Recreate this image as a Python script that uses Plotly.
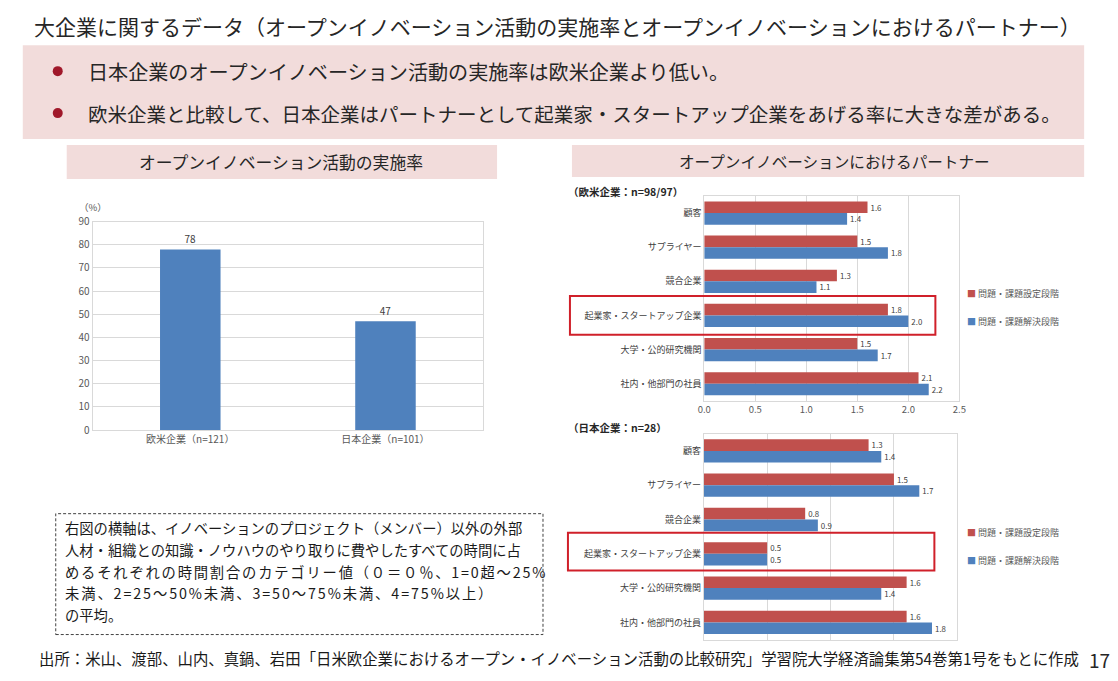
import plotly.graph_objects as go

W, H = 1118, 681
FONT = "Noto Sans CJK JP"

# ---------------- data ----------------
rate_categories = ["欧米企業（n=121）", "日本企業（n=101）"]
rate_values = [78, 47]

partner_categories = ["顧客", "サプライヤー", "競合企業", "起業家・スタートアップ企業",
                      "大学・公的研究機関", "社内・他部門の社員"]
western_setting = [1.6, 1.5, 1.3, 1.8, 1.5, 2.1]
western_solving = [1.4, 1.8, 1.1, 2.0, 1.7, 2.2]
japan_setting = [1.3, 1.5, 0.8, 0.5, 1.6, 1.6]
japan_solving = [1.4, 1.7, 0.9, 0.5, 1.4, 1.8]
series_names = ["問題・課題設定段階", "問題・課題解決段階"]

title_text = "大企業に関するデータ（オープンイノベーション活動の実施率とオープンイノベーションにおけるパートナー）"
bullet_texts = ["日本企業のオープンイノベーション活動の実施率は欧米企業より低い。",
                "欧米企業と比較して、日本企業はパートナーとして起業家・スタートアップ企業をあげる率に大きな差がある。"]
left_header = "オープンイノベーション活動の実施率"
right_header = "オープンイノベーションにおけるパートナー"
top_label = "（欧米企業：n=98/97）"
bottom_label = "（日本企業：n=28）"
note_lines = ["右図の横軸は、イノベーションのプロジェクト（メンバー）以外の外部",
              "人材・組織との知識・ノウハウのやり取りに費やしたすべての時間に占",
              "めるそれぞれの時間割合のカテゴリー値（０＝０％、1=0超～25%",
              "未満、2=25～50%未満、3=50～75%未満、4=75%以上）",
              "の平均。"]
source_text = "出所：米山、渡部、山内、真鍋、岩田「日米欧企業におけるオープン・イノベーション活動の比較研究」学習院大学経済論集第54巻第1号をもとに作成"
page_number = "17"

RED = "#C0504D"
BLUE = "#4F81BD"
PINK = "#f2dcdb"
GRID = "#d9d9d9"
TXT = "#404040"

# mapping from target-picture pixels to figure paper coordinates
SX, OX = 0.989, 14.2
SY, OY = 0.979, 15.8


def px(x):
    return ((x - OX) / SX) / W


def py(y):
    return 1 - ((y - OY) / SY) / H


fig = go.Figure()

# left bar chart
fig.add_trace(go.Bar(
    x=rate_categories, y=rate_values, xaxis="x", yaxis="y",
    marker=dict(color=BLUE, line=dict(width=0)), width=0.31,
    text=[str(v) for v in rate_values], textposition="outside",
    textfont=dict(size=10, color=TXT, family=FONT), cliponaxis=False,
    showlegend=False, hoverinfo="skip"))

# partner charts
for (sx, sy, setting, solving) in [("x2", "y2", western_setting, western_solving),
                                   ("x3", "y3", japan_setting, japan_solving)]:
    for vals, color, off, name in [(setting, RED, -0.34, series_names[0]),
                                   (solving, BLUE, 0.0, series_names[1])]:
        fig.add_trace(go.Bar(
            y=partner_categories, x=vals, orientation="h", xaxis=sx, yaxis=sy,
            marker=dict(color=color, line=dict(width=0)), offset=off, width=0.34,
            text=[f"{v:.1f}" for v in vals], textposition="outside",
            textfont=dict(size=9.5, color=TXT, family=FONT), cliponaxis=False,
            name=name, showlegend=False, hoverinfo="skip"))

axis_common = dict(showline=True, mirror=True, linecolor=GRID, linewidth=1,
                   zeroline=False, ticks="")

fig.update_layout(
    width=W, height=H, margin=dict(l=0, r=0, t=0, b=0),
    paper_bgcolor="white", plot_bgcolor="rgba(0,0,0,0)",
    barmode="overlay", font=dict(family=FONT, color=TXT),
    xaxis=dict(domain=[px(92), px(483)], anchor="y", showgrid=False,
               tickfont=dict(size=10, color="#595959"), **axis_common),
    yaxis=dict(domain=[py(429.3), py(220.7)], anchor="x", range=[0, 90], dtick=10,
               showgrid=True, gridcolor=GRID, tickfont=dict(size=10, color="#595959"),
               **axis_common),
    xaxis2=dict(domain=[px(704.5), px(960)], anchor="y2", range=[0, 2.5], dtick=0.5,
                tickformat=".1f", showgrid=True, gridcolor=GRID,
                tickfont=dict(size=9.5, color="#595959"), **axis_common),
    yaxis2=dict(domain=[py(400), py(195)], anchor="x2", autorange="reversed",
                showgrid=False, tickfont=dict(size=9, color=TXT), **axis_common),
    xaxis3=dict(domain=[px(704), px(958)], anchor="y3", range=[0, 2.0], dtick=0.5,
                showticklabels=False, showgrid=True, gridcolor=GRID, **axis_common),
    yaxis3=dict(domain=[py(639), py(433)], anchor="x3", autorange="reversed",
                showgrid=False, tickfont=dict(size=9, color=TXT), **axis_common),
)

shapes = []
# pink banner
shapes.append(dict(type="rect", xref="paper", yref="paper", x0=px(22), x1=px(1085),
                   y0=py(138), y1=py(44), fillcolor=PINK, line=dict(width=0), layer="below"))
# bullets
for yb in (70, 112):
    shapes.append(dict(type="circle", xref="paper", yref="paper", x0=px(52), x1=px(62),
                       y0=py(yb + 5), y1=py(yb - 5), fillcolor="#a0182a",
                       line=dict(width=0)))
# section headers
shapes.append(dict(type="rect", xref="paper", yref="paper", x0=px(66), x1=px(497),
                   y0=py(178), y1=py(144), fillcolor=PINK, line=dict(width=0), layer="below"))
shapes.append(dict(type="rect", xref="paper", yref="paper", x0=px(572), x1=px(1085),
                   y0=py(176), y1=py(144), fillcolor=PINK, line=dict(width=0), layer="below"))
# red highlight boxes
shapes.append(dict(type="rect", xref="paper", yref="paper", x0=px(570), x1=px(936),
                   y0=py(334), y1=py(295), line=dict(color="#d0202a", width=2)))
shapes.append(dict(type="rect", xref="paper", yref="paper", x0=px(568), x1=px(935),
                   y0=py(570), y1=py(532), line=dict(color="#d0202a", width=2)))
# dashed note box
shapes.append(dict(type="rect", xref="paper", yref="paper", x0=px(55), x1=px(543),
                   y0=py(634), y1=py(513), line=dict(color="#404040", width=1, dash="3px,2px")))

annotations = []


def ann(text, x, y, size, color="#262626", xanchor="left", yanchor="middle", **kw):
    annotations.append(dict(text=text, x=px(x), y=py(y), xref="paper", yref="paper",
                            xanchor=xanchor, yanchor=yanchor, showarrow=False,
                            font=dict(size=size, color=color, family=FONT), **kw))


ann(title_text, 31, 25, 21.0)
ann(bullet_texts[0], 85, 70, 20.1)
ann(bullet_texts[1], 85, 112, 19.5)
ann(left_header, 281, 161, 16.8, xanchor="center")
ann(right_header, 835, 160, 15.6, xanchor="center")
ann("（%）", 76, 206, 9.5, color="#595959")
ann(f"<b>{top_label}</b>", 566, 190, 10.5, color="#262626")
ann(f"<b>{bottom_label}</b>", 566, 427, 10.5, color="#262626")

for ly in (293, 532):
    ann(f"<span style='color:{RED}'>■</span> {series_names[0]}", 966, ly, 9, color="#595959")
    ann(f"<span style='color:{BLUE}'>■</span> {series_names[1]}", 966, ly + 28, 9, color="#595959")

note_spacing = [0, 0, 1.8, 1.9, 0]
for i, line in enumerate(note_lines):
    txt = line if note_spacing[i] == 0 else \
        f"<span style='letter-spacing:{note_spacing[i]}px'>{line}</span>"
    ann(txt, 62, 527 + i * 21.8, 14.3, color="#1a1a1a")

ann(source_text, 36, 657, 15.4, color="#1a1a1a")
ann(page_number, 1088, 659, 19, color="#262626")

fig.update_layout(shapes=shapes, annotations=annotations)

fig.write_html("out.html")
